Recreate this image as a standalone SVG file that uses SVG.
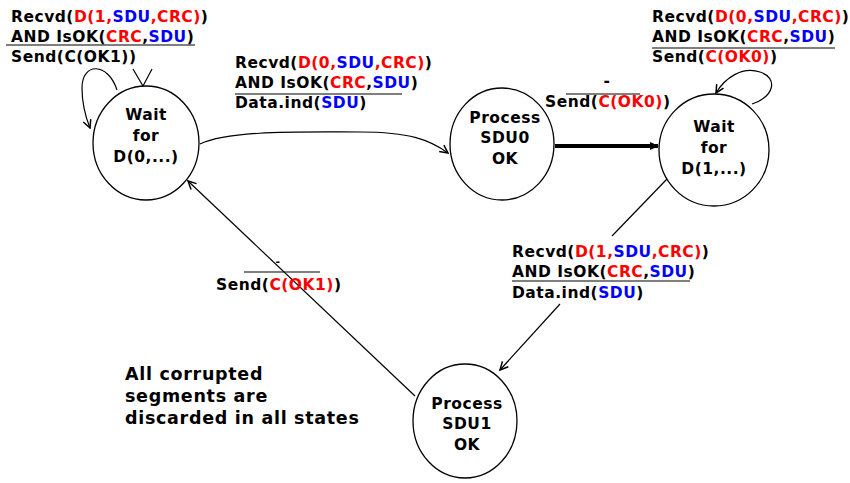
<svg xmlns="http://www.w3.org/2000/svg" width="850" height="483" viewBox="0 0 850 483">
<defs>
<marker id="arr" markerWidth="10" markerHeight="10" refX="9" refY="5" orient="auto" markerUnits="userSpaceOnUse">
<path d="M1,1 L9,5 L1,9" fill="none" stroke="#000" stroke-width="1.5"/>
</marker>
<marker id="arrT" markerWidth="10" markerHeight="10" refX="8" refY="5" orient="auto" markerUnits="userSpaceOnUse">
<path d="M0,1 L9,5 L0,9 Z" fill="#000"/>
</marker>
</defs>
<style>
text{font-family:"DejaVu Sans",Verdana,sans-serif;font-weight:bold;font-size:15.5px;letter-spacing:0.5px;fill:#000}
.n{text-anchor:middle}
.r{fill:#f00}
.b{fill:#00f}
.big{font-size:17.5px;letter-spacing:0.7px}
.st{fill:#fff;stroke:#000;stroke-width:1.3}
.c{fill:none;stroke:#000;stroke-width:1.2}
.u{stroke:#000;stroke-width:1.2}
</style>
<g id="connectors">
<path class="c" d="M117,90 C108,62 82,62 82,88 C82,106 86,118 90,128" marker-end="url(#arr)"/>
<polyline class="c" points="133,69 143,86 152,69" stroke-width="1.8"/>
<path class="c" d="M200,144 C230,130 300,132 360,132 C410,132 430,140 448,153" marker-end="url(#arr)"/>
<line x1="555" y1="146" x2="658" y2="146" stroke="#000" stroke-width="4" marker-end="url(#arrT)"/>
<path class="c" d="M752,104 C775,96 778,78 760,72 C742,66 725,78 716,93" marker-end="url(#arr)"/>
<line class="c" x1="667" y1="179" x2="612" y2="236"/>
<line class="c" x1="560" y1="304" x2="500" y2="370" marker-end="url(#arr)"/>
<line class="c" x1="415" y1="396" x2="188" y2="181" marker-end="url(#arr)"/>
</g>
<g id="label-loop0">
<text x="11" y="22">Recvd(<tspan class="r">D(1,</tspan><tspan class="b">SDU</tspan><tspan class="r">,CRC)</tspan>)</text>
<text x="11" y="42">AND IsOK(<tspan class="r">CRC</tspan>,<tspan class="b">SDU</tspan>)</text>
<line class="u" x1="6" y1="45" x2="195" y2="45"/>
<text x="11" y="62">Send(C(OK1))</text>
</g>
<g id="label-0to1">
<text x="235" y="68">Recvd(<tspan class="r">D(0,</tspan><tspan class="b">SDU</tspan><tspan class="r">,CRC)</tspan>)</text>
<text x="235" y="88">AND IsOK(<tspan class="r">CRC</tspan>,<tspan class="b">SDU</tspan>)</text>
<line class="u" x1="235" y1="94" x2="402" y2="94"/>
<text x="235" y="108">Data.ind(<tspan class="b">SDU</tspan>)</text>
</g>
<g id="label-p0">
<text x="607" y="86" class="n">-</text>
<line class="u" x1="566" y1="94" x2="640" y2="94"/>
<text x="545" y="107">Send(<tspan class="r">C(OK0)</tspan>)</text>
</g>
<g id="label-loop1">
<text x="652" y="22">Recvd(<tspan class="r">D(0,</tspan><tspan class="b">SDU</tspan><tspan class="r">,CRC)</tspan>)</text>
<text x="652" y="42">AND IsOK(<tspan class="r">CRC</tspan>,<tspan class="b">SDU</tspan>)</text>
<line class="u" x1="652" y1="48" x2="835" y2="48"/>
<text x="652" y="62">Send(<tspan class="r">C(OK0)</tspan>)</text>
</g>
<g id="label-1to1">
<text x="512" y="257">Recvd(<tspan class="r">D(1,</tspan><tspan class="b">SDU</tspan><tspan class="r">,CRC)</tspan>)</text>
<text x="512" y="277">AND IsOK(<tspan class="r">CRC</tspan>,<tspan class="b">SDU</tspan>)</text>
<line class="u" x1="512" y1="281" x2="690" y2="281"/>
<text x="512" y="298">Data.ind(<tspan class="b">SDU</tspan>)</text>
</g>
<g id="label-p1">
<text x="278" y="265" class="n" style="font-size:11px">-</text>
<line class="u" x1="244" y1="272" x2="320" y2="272"/>
<text x="216" y="290">Send(<tspan class="r">C(OK1)</tspan>)</text>
</g>
<g id="note">
<text x="125" y="380" class="big">All corrupted</text>
<text x="125" y="402" class="big">segments are</text>
<text x="125" y="424" class="big">discarded in all states</text>
</g>
<g id="wait0">
<ellipse class="st" cx="146" cy="143" rx="53" ry="57"/>
<text class="n" x="146" y="120">Wait</text>
<text class="n" x="146" y="141">for</text>
<text class="n" x="146" y="162">D(0,...)</text>
</g>
<g id="proc0">
<ellipse class="st" cx="502" cy="144" rx="52" ry="56"/>
<text class="n" x="505" y="123">Process</text>
<text class="n" x="505" y="143">SDU0</text>
<text class="n" x="505" y="164">OK</text>
</g>
<g id="wait1">
<ellipse class="st" cx="714" cy="150" rx="55" ry="56"/>
<text class="n" x="714" y="132">Wait</text>
<text class="n" x="714" y="153">for</text>
<text class="n" x="714" y="174">D(1,...)</text>
</g>
<g id="proc1">
<ellipse class="st" cx="465" cy="421" rx="52" ry="57"/>
<text class="n" x="467" y="409">Process</text>
<text class="n" x="467" y="429">SDU1</text>
<text class="n" x="467" y="450">OK</text>
</g>
</svg>
